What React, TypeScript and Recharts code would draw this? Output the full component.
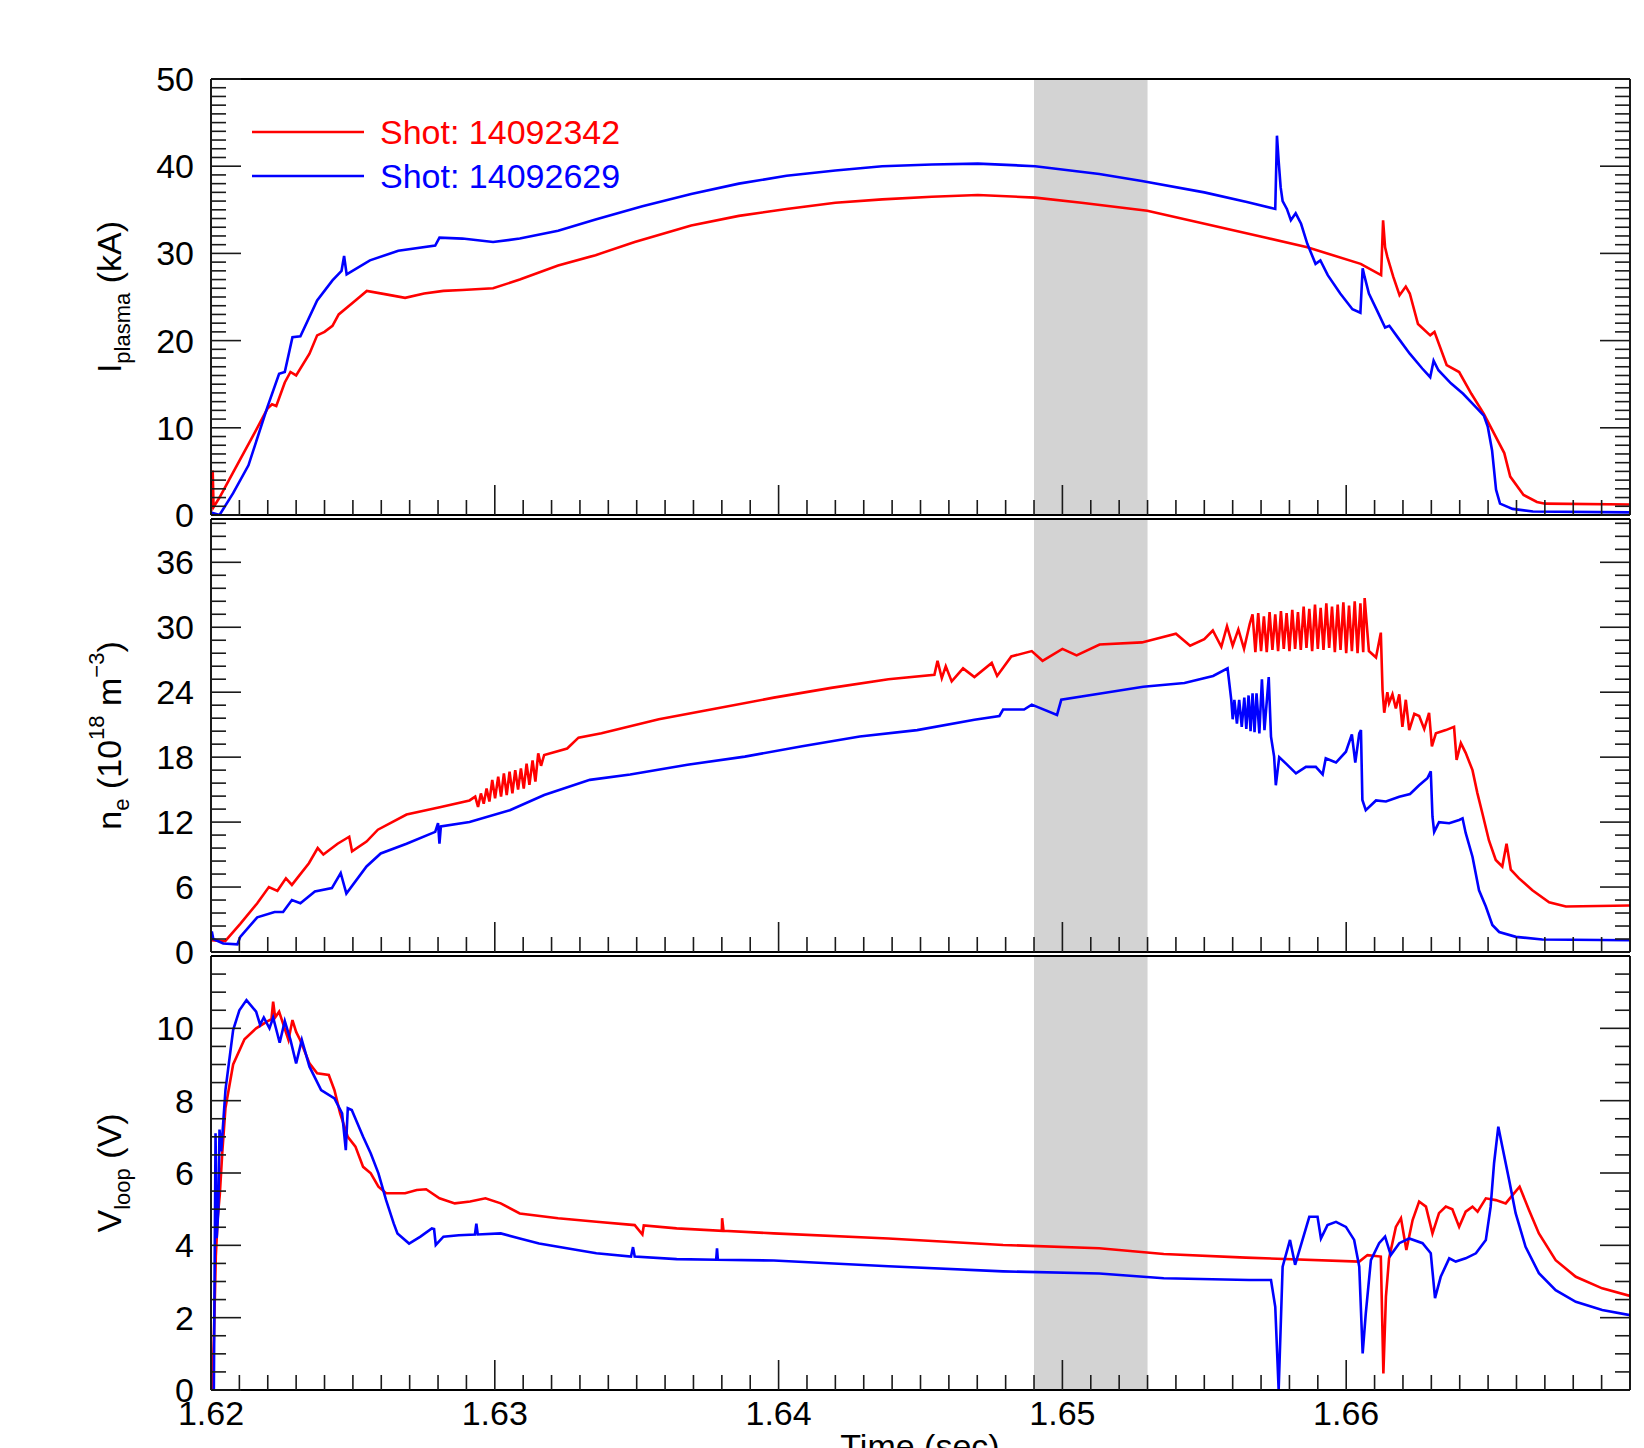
import { Legend, Line, LineChart, ReferenceArea, XAxis, YAxis } from "recharts";

type Pt = [number, number];

const W = 1644;
const H = 1448;
const FONT = "'Liberation Sans', Arial, Helvetica, sans-serif";
const INK = "#1a1a1a";

// labels / ticks
const timeLabels = ["1.62", "1.63", "1.64", "1.65", "1.66"];
const ipLabels = ["0", "10", "20", "30", "40", "50"];
const neLabels = ["0", "6", "12", "18", "24", "30", "36"];
const vlLabels = ["0", "2", "4", "6", "8", "10"];
const shots = ["Shot: 14092342", "Shot: 14092629"];
const shadeWindow = [1.649, 1.653];

const timeTicks = Array.from({ length: 51 }, (_, i) => (1620 + i) / 1000);
const ipTicks = Array.from({ length: 51 }, (_, i) => i);
const neTicks = Array.from({ length: 34 }, (_, i) => Math.round(i * 12) / 10);
const vlTicks = Array.from({ length: 24 }, (_, i) => i / 2);

// plasma current (kA)
const ipShotA: Pt[] = [
  [1.62, 1.0], [1.62004, 0.9], [1.62006, 5.1], [1.62009, 0.9], [1.6203, 2.0], [1.62078, 4.9],
  [1.62145, 8.9], [1.62199, 12.2], [1.62215, 12.7], [1.6223, 12.5], [1.6226, 15.2], [1.6228, 16.4],
  [1.623, 16.0], [1.62347, 18.5], [1.62374, 20.6], [1.624, 21.0], [1.62428, 21.7], [1.6245, 23.0],
  [1.62509, 24.6], [1.62549, 25.7], [1.62617, 25.3], [1.62684, 24.9], [1.62751, 25.4], [1.62819, 25.7],
  [1.62886, 25.8], [1.62994, 26.0], [1.63088, 27.0], [1.63223, 28.6], [1.63355, 29.8], [1.63493, 31.3],
  [1.63692, 33.2], [1.6386, 34.3], [1.64028, 35.1], [1.642, 35.8], [1.64365, 36.2], [1.6454, 36.5],
  [1.64702, 36.7], [1.64904, 36.4], [1.65067, 35.8], [1.65299, 34.9], [1.65501, 33.4], [1.65718, 31.8],
  [1.65863, 30.7], [1.66051, 28.8], [1.66123, 27.5], [1.6613, 33.8], [1.66137, 30.7], [1.66145, 29.6],
  [1.66166, 27.3], [1.66188, 25.2], [1.6621, 26.2], [1.66224, 25.4], [1.66253, 21.9], [1.66296, 20.6],
  [1.66311, 21.0], [1.66354, 17.2], [1.66398, 16.4], [1.66441, 13.9], [1.66485, 11.6], [1.66557, 7.1],
  [1.66578, 4.4], [1.66625, 2.3], [1.66672, 1.5], [1.66701, 1.3], [1.67, 1.2],
];
const ipShotB: Pt[] = [
  [1.62, 0.3], [1.6203, 0.0], [1.62078, 2.5], [1.62132, 5.7], [1.62199, 12.4], [1.6224, 16.2],
  [1.6226, 16.4], [1.62287, 20.4], [1.62315, 20.5], [1.62374, 24.6], [1.62428, 26.9], [1.6246, 28.0],
  [1.62469, 29.7], [1.62478, 27.6], [1.6256, 29.2], [1.6266, 30.3], [1.6279, 30.9], [1.62805, 31.8],
  [1.62886, 31.7], [1.62994, 31.3], [1.63088, 31.7], [1.63223, 32.6], [1.63355, 33.9], [1.6352, 35.4],
  [1.63692, 36.8], [1.6386, 38.0], [1.64028, 38.9], [1.642, 39.5], [1.64365, 40.0], [1.6454, 40.2],
  [1.64702, 40.3], [1.64904, 40.0], [1.6513, 39.1], [1.6528, 38.3], [1.655, 37.0], [1.6565, 35.9],
  [1.6575, 35.1], [1.65756, 43.5], [1.65762, 40.6], [1.65769, 37.6], [1.65776, 36.0], [1.65791, 35.1],
  [1.65805, 33.8], [1.65822, 34.6], [1.65841, 33.4], [1.65863, 31.1], [1.65892, 28.8], [1.65909, 29.2],
  [1.65935, 27.5], [1.65979, 25.4], [1.66022, 23.6], [1.6605, 23.2], [1.66058, 28.3], [1.66065, 27.3],
  [1.6608, 25.4], [1.66108, 23.5], [1.66137, 21.5], [1.66152, 21.7], [1.66181, 20.4], [1.66224, 18.5],
  [1.66268, 16.8], [1.66296, 15.8], [1.66308, 17.7], [1.66325, 16.6], [1.66369, 15.1], [1.66412, 13.9],
  [1.66456, 12.4], [1.66485, 11.4], [1.66499, 10.1], [1.66514, 7.4], [1.66528, 2.9], [1.66542, 1.3],
  [1.66586, 0.7], [1.66658, 0.4], [1.67, 0.3],
];

// electron density (1e18 m^-3)
const neShotA: Pt[] = [
  [1.62, 1.1], [1.6205, 1.0], [1.62103, 2.6], [1.62163, 4.5], [1.62204, 6.0], [1.62234, 5.65],
  [1.62264, 6.8], [1.62285, 6.2], [1.62345, 8.2], [1.62376, 9.6], [1.62396, 9.0], [1.62446, 10.0],
  [1.62487, 10.65], [1.62497, 9.3], [1.62548, 10.2], [1.62588, 11.3], [1.62689, 12.7], [1.6281, 13.4],
  [1.62911, 14.0], [1.62931, 14.35], [1.62941, 13.4], [1.62951, 14.65], [1.62961, 13.7], [1.62971, 15.1],
  [1.62981, 13.9], [1.62991, 15.9], [1.63001, 14.2], [1.63012, 16.2], [1.63022, 14.35], [1.63032, 16.5],
  [1.63042, 14.5], [1.63052, 16.65], [1.63062, 14.65], [1.63072, 16.8], [1.63082, 15.0], [1.63092, 16.95],
  [1.63102, 15.1], [1.63112, 17.4], [1.63122, 15.45], [1.63133, 17.7], [1.63143, 15.75], [1.63153, 18.35],
  [1.63163, 17.2], [1.63174, 18.2], [1.63255, 18.8], [1.63295, 19.8], [1.63376, 20.2], [1.63578, 21.5],
  [1.6378, 22.5], [1.63983, 23.5], [1.64185, 24.4], [1.64387, 25.2], [1.64549, 25.6], [1.6456, 26.9],
  [1.64575, 25.3], [1.64589, 26.4], [1.6461, 25.0], [1.6465, 26.2], [1.6469, 25.4], [1.64751, 26.7],
  [1.6477, 25.5], [1.6482, 27.3], [1.64892, 27.8], [1.6493, 26.9], [1.65, 28.0], [1.6505, 27.4],
  [1.65131, 28.4], [1.6528, 28.6], [1.654, 29.4], [1.6545, 28.3], [1.655, 28.9], [1.6553, 29.7],
  [1.6556, 28.2], [1.6558, 30.1], [1.656, 28.3], [1.6562, 29.8], [1.6564, 28.0], [1.6566, 30.3],
  [1.6567, 31.2], [1.6568, 27.7], [1.6569, 31.3], [1.657, 27.8], [1.6571, 31.0], [1.6572, 27.7],
  [1.6573, 31.4], [1.6574, 27.9], [1.6575, 31.2], [1.6576, 27.8], [1.6577, 31.5], [1.6578, 28.0],
  [1.6579, 31.3], [1.658, 27.8], [1.6581, 31.6], [1.6582, 28.0], [1.6583, 31.4], [1.6584, 27.9],
  [1.6585, 31.9], [1.6586, 28.1], [1.6587, 31.7], [1.6588, 27.8], [1.6589, 32.1], [1.659, 28.0],
  [1.6591, 31.8], [1.6592, 27.9], [1.6593, 32.2], [1.6594, 28.1], [1.6595, 31.9], [1.6596, 27.7],
  [1.6597, 32.1], [1.6598, 27.9], [1.6599, 32.3], [1.66, 27.6], [1.6601, 32.0], [1.6602, 27.8],
  [1.6603, 32.4], [1.6604, 27.6], [1.6605, 32.2], [1.6606, 27.7], [1.66065, 32.7], [1.6608, 27.8],
  [1.66105, 27.2], [1.66122, 29.5], [1.66128, 24.2], [1.66134, 22.1], [1.66145, 24.0], [1.66151, 23.0],
  [1.66163, 23.8], [1.66175, 22.5], [1.66187, 23.8], [1.66198, 20.8], [1.6621, 23.3], [1.66222, 20.5],
  [1.6624, 22.0], [1.66257, 21.8], [1.66275, 20.6], [1.66292, 22.1], [1.66302, 19.0], [1.66316, 20.2],
  [1.66351, 20.5], [1.6638, 20.8], [1.66389, 17.75], [1.66404, 19.3], [1.66421, 18.4], [1.66445, 16.8],
  [1.66462, 14.7], [1.6648, 12.8], [1.66503, 10.3], [1.66527, 8.5], [1.6655, 7.9], [1.66565, 10.0],
  [1.6658, 7.6], [1.66609, 6.8], [1.66656, 5.7], [1.66715, 4.6], [1.66774, 4.2], [1.67, 4.3],
];
const neShotB: Pt[] = [
  [1.62, 1.55], [1.62003, 1.9], [1.62008, 1.2], [1.62043, 0.78], [1.62093, 0.71], [1.62103, 1.4],
  [1.62163, 3.2], [1.62224, 3.7], [1.62254, 3.7], [1.62285, 4.8], [1.62315, 4.5], [1.62366, 5.6],
  [1.62426, 5.9], [1.62457, 7.3], [1.62477, 5.4], [1.62548, 7.9], [1.62598, 9.1], [1.62689, 10.0],
  [1.6279, 11.1], [1.628, 11.9], [1.62805, 10.0], [1.6281, 11.6], [1.62911, 12.0], [1.63053, 13.1],
  [1.63174, 14.5], [1.63335, 15.9], [1.63477, 16.4], [1.63679, 17.3], [1.63881, 18.05], [1.64083, 19.0],
  [1.64286, 19.9], [1.64488, 20.5], [1.6469, 21.45], [1.64778, 21.8], [1.64791, 22.4], [1.64865, 22.4],
  [1.64892, 22.85], [1.64981, 21.9], [1.64996, 23.3], [1.6514, 23.9], [1.65285, 24.5], [1.6543, 24.85],
  [1.65531, 25.5], [1.65582, 26.2], [1.65595, 23.3], [1.656, 21.5], [1.65606, 23.3], [1.65615, 21.1],
  [1.65623, 23.3], [1.65632, 20.8], [1.65641, 23.5], [1.65648, 20.6], [1.65656, 23.7], [1.65663, 20.4],
  [1.6567, 23.9], [1.65677, 20.3], [1.65684, 23.9], [1.65694, 20.2], [1.65703, 25.2], [1.65712, 20.5],
  [1.65727, 25.4], [1.65735, 19.9], [1.65746, 18.05], [1.65752, 15.4], [1.65764, 18.0], [1.65788, 17.4],
  [1.65823, 16.5], [1.65858, 17.1], [1.65893, 17.1], [1.65917, 16.4], [1.65928, 17.9], [1.65964, 17.5],
  [1.65999, 18.5], [1.6602, 20.1], [1.66032, 17.5], [1.66046, 20.2], [1.66052, 20.5], [1.66057, 14.05],
  [1.66069, 13.1], [1.66105, 14.0], [1.6614, 13.9], [1.66187, 14.35], [1.66225, 14.6], [1.66257, 15.4],
  [1.66286, 16.05], [1.66298, 16.7], [1.66304, 12.5], [1.6631, 11.1], [1.66327, 12.0], [1.66363, 11.9],
  [1.66398, 12.2], [1.6641, 12.35], [1.66421, 11.0], [1.66445, 8.8], [1.66468, 5.7], [1.66492, 4.2],
  [1.66515, 2.5], [1.66539, 1.85], [1.66598, 1.4], [1.66691, 1.15], [1.67, 1.08],
];

// loop voltage (V)
const vlShotA: Pt[] = [
  [1.62, 0.0], [1.62004, 0.0], [1.6201, 1.4], [1.62017, 3.7], [1.62024, 4.8], [1.62031, 5.4],
  [1.6204, 6.6], [1.62051, 7.8], [1.62078, 9.0], [1.62118, 9.7], [1.62159, 10.0], [1.622, 10.2],
  [1.62213, 10.25], [1.62219, 10.74], [1.62226, 10.3], [1.6224, 10.46], [1.62273, 9.68], [1.62287, 10.23],
  [1.623, 9.9], [1.62314, 9.68], [1.62347, 9.03], [1.62374, 8.76], [1.62415, 8.71], [1.62435, 8.29],
  [1.62455, 7.65], [1.62482, 7.0], [1.62509, 6.73], [1.62536, 6.17], [1.62563, 5.99], [1.6259, 5.62],
  [1.62617, 5.44], [1.62684, 5.44], [1.62725, 5.53], [1.62758, 5.55], [1.62805, 5.3], [1.62859, 5.16],
  [1.62913, 5.21], [1.62967, 5.3], [1.63021, 5.16], [1.63088, 4.88], [1.63223, 4.75], [1.63358, 4.65],
  [1.63493, 4.56], [1.6352, 4.3], [1.63525, 4.55], [1.63641, 4.47], [1.638, 4.4], [1.63801, 4.75],
  [1.63806, 4.4], [1.63983, 4.33], [1.64387, 4.19], [1.64791, 4.01], [1.6513, 3.92], [1.65357, 3.76],
  [1.65646, 3.66], [1.66046, 3.55], [1.66075, 3.73], [1.66122, 3.69], [1.66131, 0.46], [1.6614, 2.58],
  [1.66151, 3.64], [1.66175, 4.51], [1.66193, 4.75], [1.66212, 3.87], [1.66234, 4.7], [1.66257, 5.21],
  [1.66281, 5.07], [1.66304, 4.33], [1.66327, 4.89], [1.66351, 5.07], [1.66374, 5.0], [1.66398, 4.51],
  [1.66421, 4.93], [1.66445, 5.07], [1.66463, 4.93], [1.66492, 5.3], [1.66527, 5.25], [1.66562, 5.16],
  [1.66586, 5.39], [1.66611, 5.62], [1.66644, 4.98], [1.66679, 4.33], [1.66738, 3.59], [1.66809, 3.13],
  [1.66902, 2.81], [1.67, 2.6],
];
const vlShotB: Pt[] = [
  [1.62, 0.0], [1.6201, 0.0], [1.62016, 7.1], [1.6202, 4.2], [1.62026, 5.0], [1.6203, 7.2],
  [1.62036, 6.6], [1.62051, 8.3], [1.62078, 9.95], [1.621, 10.5], [1.62125, 10.78], [1.62159, 10.46],
  [1.62173, 10.1], [1.62186, 10.3], [1.62206, 10.0], [1.62219, 10.3], [1.62242, 9.6], [1.6226, 10.2],
  [1.6228, 9.68], [1.623, 9.03], [1.6232, 9.68], [1.62347, 8.94], [1.62388, 8.29], [1.62435, 8.06],
  [1.62462, 7.65], [1.62475, 6.63], [1.62482, 7.79], [1.62496, 7.74], [1.62536, 7.0], [1.62563, 6.54],
  [1.6259, 5.99], [1.62617, 5.25], [1.62644, 4.6], [1.62657, 4.33], [1.62698, 4.05], [1.62738, 4.24],
  [1.62778, 4.47], [1.62786, 4.45], [1.62792, 4.01], [1.62819, 4.24], [1.62873, 4.28], [1.6293, 4.3],
  [1.62935, 4.6], [1.6294, 4.3], [1.63021, 4.33], [1.63088, 4.19], [1.63156, 4.05], [1.6329, 3.87],
  [1.63358, 3.78], [1.6348, 3.69], [1.63487, 3.95], [1.63493, 3.69], [1.63641, 3.62], [1.6378, 3.6],
  [1.63783, 3.92], [1.63786, 3.6], [1.63983, 3.58], [1.64387, 3.42], [1.64791, 3.28], [1.6513, 3.22],
  [1.65357, 3.09], [1.65658, 3.04], [1.65735, 3.04], [1.6575, 2.3], [1.65762, 0.0], [1.65776, 3.41],
  [1.65802, 4.15], [1.6582, 3.46], [1.6587, 4.79], [1.65899, 4.79], [1.65911, 4.19], [1.65934, 4.56],
  [1.65964, 4.65], [1.65999, 4.51], [1.66028, 4.15], [1.66046, 3.41], [1.66058, 1.01], [1.66069, 2.12],
  [1.66087, 3.59], [1.66116, 4.06], [1.66137, 4.24], [1.66157, 3.73], [1.66187, 4.06], [1.66222, 4.19],
  [1.66269, 4.06], [1.66298, 3.78], [1.66313, 2.54], [1.66333, 3.13], [1.66363, 3.64], [1.66386, 3.55],
  [1.66421, 3.64], [1.66457, 3.78], [1.66492, 4.15], [1.66509, 5.07], [1.66521, 6.27], [1.66536, 7.28],
  [1.6655, 6.73], [1.66574, 5.81], [1.66597, 4.89], [1.66632, 3.96], [1.66679, 3.23], [1.66738, 2.76],
  [1.66809, 2.44], [1.66902, 2.21], [1.67, 2.07],
];

const rows = (pts: Pt[]) => pts.map(([t, v]) => ({ t, v }));

function timeTick(edge: "top" | "bottom", withText: boolean) {
  return (p: any) => {
    const v = Number(p.payload.value);
    const txt = v.toFixed(3).endsWith("0") ? v.toFixed(2) : "";
    const major = timeLabels.includes(txt);
    const len = major ? 30 : 15;
    const dir = edge === "bottom" ? -1 : 1;
    return (
      <g>
        <line x1={p.x} x2={p.x} y1={p.y} y2={p.y + dir * len} stroke={INK} strokeWidth={1.6} />
        {withText && major && (
          <text x={p.x} y={p.y + 35} textAnchor="middle" fontSize={34} fontFamily={FONT} fill="#000">
            {txt}
          </text>
        )}
      </g>
    );
  };
}

function valueTick(labels: string[], edge: "left" | "right") {
  return (p: any) => {
    const txt = String(Number(p.payload.value));
    const major = labels.includes(txt);
    const len = major ? 30 : 15;
    const dir = edge === "left" ? 1 : -1;
    return (
      <g>
        <line x1={p.x} x2={p.x + dir * len} y1={p.y} y2={p.y} stroke={INK} strokeWidth={1.6} />
        {edge === "left" && major && (
          <text x={p.x - 17} y={p.y + 12} textAnchor="end" fontSize={34} fontFamily={FONT} fill="#000">
            {txt}
          </text>
        )}
      </g>
    );
  };
}

function SideTitle({ cy, kind }: { cy: number; kind: "ip" | "ne" | "vl" }) {
  const big = 34;
  const small = 22;
  return (
    <text transform={`translate(121,${cy}) rotate(-90)`} textAnchor="middle" fontSize={big} fontFamily={FONT} fill="#000">
      {kind === "ip" && (
        <>
          <tspan>I</tspan>
          <tspan fontSize={small} dy={9}>plasma</tspan>
          <tspan dy={-9}>{" (kA)"}</tspan>
        </>
      )}
      {kind === "ne" && (
        <>
          <tspan>n</tspan>
          <tspan fontSize={small} dy={8}>e</tspan>
          <tspan dy={-8}>{" (10"}</tspan>
          <tspan fontSize={small} dy={-17}>18</tspan>
          <tspan dy={17}>{" m"}</tspan>
          <tspan fontSize={small} dy={-17}>{"\u22123"}</tspan>
          <tspan dy={17}>)</tspan>
        </>
      )}
      {kind === "vl" && (
        <>
          <tspan>V</tspan>
          <tspan fontSize={small} dy={9}>loop</tspan>
          <tspan dy={-9}>{" (V)"}</tspan>
        </>
      )}
    </text>
  );
}

function TimeTitle(_: any) {
  return (
    <text x={920} y={1458} textAnchor="middle" fontSize={34} fontFamily={FONT} fill="#000">
      Time (sec)
    </text>
  );
}

function ShotLegend(props: any) {
  const items = props.payload || [];
  return (
    <div style={{ fontFamily: FONT, fontSize: 34, lineHeight: "44px" }}>
      {items.map((e: any) => (
        <div key={e.value} style={{ display: "flex", alignItems: "center", height: 44, whiteSpace: "nowrap" }}>
          <svg width={112} height={4} style={{ display: "block" }}>
            <line x1={0} x2={112} y1={2} y2={2} stroke={e.color} strokeWidth={2.5} />
          </svg>
          <span style={{ color: e.color, marginLeft: 16 }}>{e.value}</span>
        </div>
      ))}
    </div>
  );
}

interface PanelProps {
  top: number;
  bottom: number;
  domain: [number, number];
  ticks: number[];
  labels: string[];
  a: Pt[];
  b: Pt[];
  kind: "ip" | "ne" | "vl";
  showTime?: boolean;
  legend?: boolean;
}

const axisStroke = { stroke: "#000", strokeWidth: 1.8 };
const PLOT_LEFT = 211;
const PLOT_RIGHT = 1630;

function Panel({ top, bottom, domain, ticks, labels, a, b, kind, showTime, legend }: PanelProps) {
  // every axis takes 1px, so margins are 1px short of the frame
  return (
    <div style={{ position: "absolute", left: 0, top: 0 }}>
      <LineChart
        width={W}
        height={H}
        margin={{ top: top - 1, right: W - PLOT_RIGHT - 1, bottom: H - bottom - 1, left: PLOT_LEFT - 1 }}
      >
        <ReferenceArea
          xAxisId="b"
          yAxisId="l"
          x1={shadeWindow[0]}
          x2={shadeWindow[1]}
          fill="#d3d3d3"
          fillOpacity={1}
          stroke="none"
        />
        <XAxis
          xAxisId="b"
          type="number"
          dataKey="t"
          domain={[1.62, 1.67]}
          allowDataOverflow
          ticks={timeTicks}
          interval={0}
          tickSize={0}
          tickMargin={0}
          tickLine={false}
          tick={timeTick("bottom", !!showTime)}
          axisLine={axisStroke}
          height={1}
          label={showTime ? <TimeTitle /> : undefined}
        />
        <XAxis
          xAxisId="t"
          orientation="top"
          type="number"
          domain={[1.62, 1.67]}
          allowDataOverflow
          ticks={timeTicks}
          interval={0}
          tickSize={0}
          tickMargin={0}
          tickLine={false}
          tick={timeTick("top", false)}
          axisLine={axisStroke}
          height={1}
        />
        <YAxis
          yAxisId="l"
          type="number"
          domain={domain}
          allowDataOverflow
          ticks={ticks}
          interval={0}
          tickSize={0}
          tickMargin={0}
          tickLine={false}
          tick={valueTick(labels, "left")}
          axisLine={axisStroke}
          width={1}
          label={<SideTitle cy={(top + bottom) / 2} kind={kind} />}
        />
        <YAxis
          yAxisId="r"
          orientation="right"
          type="number"
          domain={domain}
          allowDataOverflow
          ticks={ticks}
          interval={0}
          tickSize={0}
          tickMargin={0}
          tickLine={false}
          tick={valueTick(labels, "right")}
          axisLine={axisStroke}
          width={1}
        />
        <Line
          xAxisId="b"
          yAxisId="l"
          data={rows(a)}
          dataKey="v"
          name={shots[0]}
          type="linear"
          stroke="#ff0000"
          strokeWidth={2.6}
          dot={false}
          activeDot={false}
          isAnimationActive={false}
        />
        <Line
          xAxisId="b"
          yAxisId="l"
          data={rows(b)}
          dataKey="v"
          name={shots[1]}
          type="linear"
          stroke="#0000ff"
          strokeWidth={2.6}
          dot={false}
          activeDot={false}
          isAnimationActive={false}
        />
        {legend && (
          <Legend
            layout="vertical"
            align="center"
            verticalAlign="middle"
            content={ShotLegend}
            wrapperStyle={{ left: 252, top: 110, width: 420, height: 88 }}
          />
        )}
      </LineChart>
    </div>
  );
}

export default function App() {
  return (
    <div style={{ position: "absolute", left: 0, top: 0, width: W, height: H, background: "#fff", overflow: "hidden" }}>
      <Panel top={79} bottom={515} domain={[0, 50]} ticks={ipTicks} labels={ipLabels} a={ipShotA} b={ipShotB} kind="ip" legend />
      <Panel top={519} bottom={952} domain={[0, 40]} ticks={neTicks} labels={neLabels} a={neShotA} b={neShotB} kind="ne" />
      <Panel top={956} bottom={1390} domain={[0, 12]} ticks={vlTicks} labels={vlLabels} a={vlShotA} b={vlShotB} kind="vl" showTime />
    </div>
  );
}
